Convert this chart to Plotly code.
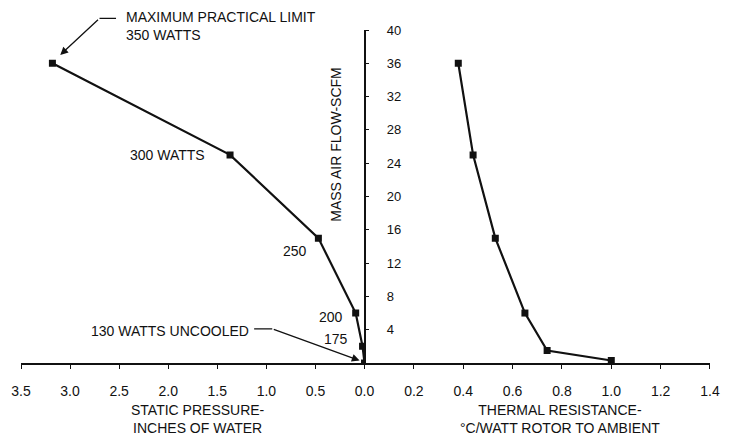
import plotly.graph_objects as go

# Data
pressure = [3.18, 1.37, 0.47, 0.09, 0.02, 0.0]          # inches of water
flow_left = [36, 25, 15, 6, 2, 0]                       # SCFM
resistance = [0.38, 0.44, 0.53, 0.65, 0.74, 1.0]        # °C/W rotor to ambient
flow_right = [36, 25, 15, 6, 1.5, 0.3]

left_ticks = [3.5, 3.0, 2.5, 2.0, 1.5, 1.0, 0.5, 0.0]
right_ticks = [0.2, 0.4, 0.6, 0.8, 1.0, 1.2, 1.4]
y_ticks = [4, 8, 12, 16, 20, 24, 28, 32, 36, 40]

INK = "#111111"
FONT = "Liberation Sans, Arial, sans-serif"
split = 349 / 700

fig = go.Figure()
fig.add_trace(go.Scatter(x=pressure, y=flow_left, mode="lines+markers", xaxis="x", yaxis="y",
                         line=dict(color=INK, width=2.2),
                         marker=dict(symbol="square", size=7, color=INK), showlegend=False))
fig.add_trace(go.Scatter(x=resistance, y=flow_right, mode="lines+markers", xaxis="x2", yaxis="y",
                         line=dict(color=INK, width=2.2),
                         marker=dict(symbol="square", size=7, color=INK), showlegend=False))

axis_common = dict(showgrid=False, zeroline=False, showline=True, linecolor=INK, linewidth=1.5,
                   ticks="outside", ticklen=4, tickcolor=INK)

fig.update_layout(
    width=731, height=439,
    margin=dict(l=20, r=11, t=30, b=76),
    paper_bgcolor="white", plot_bgcolor="white",
    xaxis=dict(domain=[0, split], range=[3.5, 0], tickvals=left_ticks,
               ticktext=[f"{v:.1f}" for v in left_ticks], anchor="y", ticklabelstandoff=10,
               tickfont=dict(family=FONT, size=14, color=INK), **axis_common),
    xaxis2=dict(domain=[split, 1], range=[0, 1.4], tickvals=right_ticks,
                ticktext=[f"{v:.1f}" for v in right_ticks], anchor="y", ticklabelstandoff=10,
                tickfont=dict(family=FONT, size=14, color=INK), **axis_common),
    yaxis=dict(range=[0, 40], tickvals=y_ticks, anchor="free", position=split, side="right",
               ticklabelstandoff=15, tickfont=dict(family=FONT, size=13, color=INK), **axis_common),
    font=dict(family=FONT, color=INK),
)

txt = dict(family=FONT, size=14, color=INK)
ann = []
# axis titles
ann.append(dict(xref="paper", yref="paper", x=0.457, y=0.658, text="MASS AIR FLOW-SCFM",
                textangle=-90, showarrow=False, font=txt))
ann.append(dict(xref="paper", yref="paper", x=0.257, y=-0.168, xanchor="center", yanchor="middle",
                text="STATIC PRESSURE-<br>INCHES OF WATER", showarrow=False, font=txt))
ann.append(dict(xref="paper", yref="paper", x=0.783, y=-0.168, xanchor="center", yanchor="middle",
                text="THERMAL RESISTANCE-<br>°C/WATT ROTOR TO AMBIENT", showarrow=False, font=txt))
# point labels
ann.append(dict(x=2.45, xref="x", yref="paper", y=1.012, text="MAXIMUM PRACTICAL LIMIT<br>350 WATTS",
                xanchor="left", yanchor="middle", align="left", showarrow=False, font=txt))
ann.append(dict(x=3.10, y=37, ax=2.70, ay=41.4, axref="x", ayref="y", text="", showarrow=True,
                arrowhead=2, arrowsize=1.2, arrowwidth=1.3, arrowcolor=INK))
ann.append(dict(x=2.70, xref="x", yref="paper", y=41.4 / 40, ax=18, ay=0, text="", showarrow=True,
                arrowhead=0, arrowwidth=1.3, arrowcolor=INK))
ann.append(dict(x=1.6, y=25, text="300 WATTS", xanchor="right", showarrow=False, font=txt))
ann.append(dict(x=0.71, y=13.4, text="250", showarrow=False, font=txt))
ann.append(dict(x=0.34, y=5.5, text="200", showarrow=False, font=txt))
ann.append(dict(x=0.29, y=2.9, text="175", showarrow=False, font=txt))
ann.append(dict(x=1.16, y=3.85, text="130 WATTS UNCOOLED", xanchor="right", showarrow=False, font=txt))
ann.append(dict(x=0.94, y=4.1, ax=1.14, ay=4.1, axref="x", ayref="y", text="", showarrow=True,
                arrowhead=0, arrowwidth=1.3, arrowcolor=INK))
ann.append(dict(x=0.05, y=0.3, ax=0.94, ay=4.1, axref="x", ayref="y", text="", showarrow=True,
                arrowhead=2, arrowsize=1.2, arrowwidth=1.3, arrowcolor=INK))
fig.update_layout(annotations=ann)

fig.write_html("out.html")
